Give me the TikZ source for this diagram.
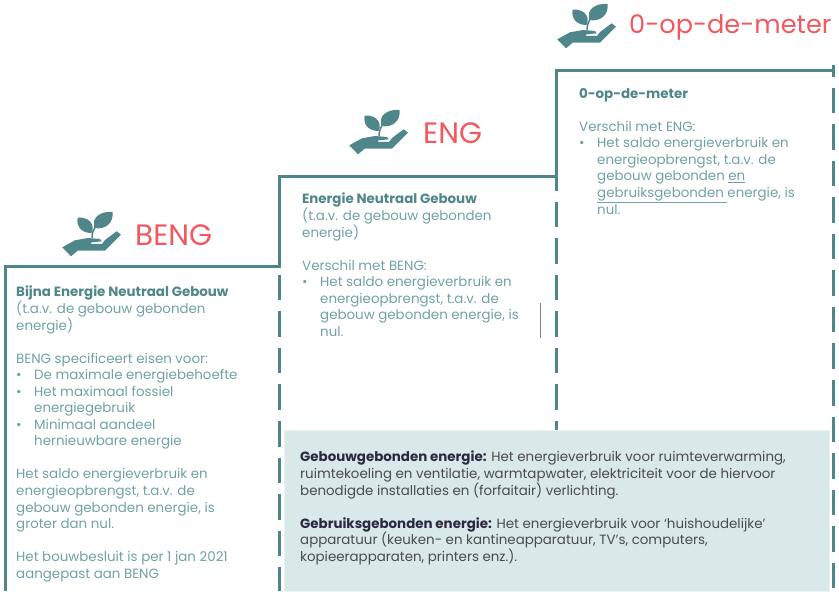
\documentclass[tikz,border=0pt]{standalone}
\usepackage{fontspec}
\setmainfont{Poppins}
\usepackage{xcolor}
\definecolor{stepteal}{HTML}{4F868A}
\definecolor{bodyteal}{HTML}{70A2A4}
\definecolor{boxfill}{HTML}{D9E8E8}
\definecolor{boxedge}{HTML}{E9F3F3}
\definecolor{headred}{HTML}{F2585F}
\definecolor{boxtext}{HTML}{4A4A50}
\definecolor{boxbold}{HTML}{2E2740}
\newcommand{\bul}{\makebox[18pt][l]{•}}
\newcommand{\ind}{\hspace*{18pt}}
\tikzset{
	stepline/.style={draw=stepteal, line width=3pt},
	stepdash/.style={stepline, dash pattern=on 25.5pt off 11pt},
	headtext/.style={text=headred, font=\fontsize{29.5}{34}\selectfont, inner sep=0pt},
	stepbody/.style={text=bodyteal, anchor=north west, align=left, inner sep=0pt, font=\fontsize{13.4}{16.55}\selectfont},
	boxbody/.style={stepbody, text=boxtext},
	planthand/.pic={
		\fill[stepteal] (7.3,39.3) -- (20,32.3) -- (33,30) -- (45,31) -- (46.7,33.3) -- (36,34.5) -- (36,36) -- (47,36) -- (50,32) -- (61.7,23.3) -- (66,26.7) -- (50,42.7) -- (22.7,42.7) -- (16,48.3) -- cycle;
		\fill[stepteal] (22.7,9.5) .. controls (36,9) and (40,18) .. (36.5,25) .. controls (26,25) and (21,18) .. (22.7,9.5) -- cycle;
		\fill[stepteal] (57.5,4) .. controls (46,3) and (36,9) .. (39.5,20) .. controls (50,22) and (59,15) .. (57.5,4) -- cycle;
		\draw[stepteal, line width=1.5pt] (37,30) .. controls (37,26) and (38,22) .. (41,18);
	}
}
\begin{document}
\begin{tikzpicture}[x=1pt, y=-1pt]
	\useasboundingbox (0,0) rectangle (839,596);
	\draw[stepline](5, 591) -- (5, 267) -- (279.5, 267) -- (279.5, 177) -- (556, 177) -- (556, 70.5) -- (833, 70.5);
	\draw[stepline](833, 65) -- (833, 77);
	\draw[stepline](556, 177) -- (556, 191);
	\draw[stepdash](279.5, 275) -- (279.5, 591);
	\draw[stepdash](556, 202) -- (556, 432);
	\draw[stepdash](833, 88) -- (833, 591);
	\fill[boxfill, draw=boxedge, line width=1pt](284, 430) rectangle (829, 591);
	\draw[gray, line width=.7pt](540.5, 303) -- (540.5, 338);
	\pic at (55, 208) {planthand};
	\pic at (342, 106) {planthand};
	\pic at (550, 0) {planthand};
	\node[headtext, anchor=west] (bengHead) at (135, 235) {BENG};
	\node[headtext, anchor=west] (engHead) at (423, 133) {ENG};
	\node[headtext, anchor=west, font=\fontsize{25.6}{30}\selectfont] (meterHead) at (629, 27) {0-op-de-meter};
	\node[stepbody] (bengBody) at (16, 286) {\textcolor{stepteal}{\textbf{Bijna Energie Neutraal Gebouw}}\\
		(t.a.v. de gebouw gebonden\\
		energie)\\[16.55pt]
		BENG specificeert eisen voor:\\
		\bul De maximale energiebehoefte\\
		\bul Het maximaal fossiel\\
		\ind energiegebruik\\
		\bul Minimaal aandeel\\
		\ind hernieuwbare energie\\[16.55pt]
		Het saldo energieverbruik en\\
		energieopbrengst, t.a.v. de\\
		gebouw gebonden energie, is\\
		groter dan nul.\\[16.55pt]
		Het bouwbesluit is per 1 jan 2021\\
		aangepast aan BENG};
	\node[stepbody] (engBody) at (302, 193) {\textcolor{stepteal}{\textbf{Energie Neutraal Gebouw}}\\
		(t.a.v. de gebouw gebonden\\
		energie)\\[16.55pt]
		Verschil met BENG:\\
		\bul Het saldo energieverbruik en\\
		\ind energieopbrengst, t.a.v. de\\
		\ind gebouw gebonden energie, is\\
		\ind nul.};
	\node[stepbody] (meterBody) at (579, 88) {\textcolor{stepteal}{\textbf{0-op-de-meter}}\\[16.55pt]
		Verschil met ENG:\\
		\bul Het saldo energieverbruik en\\
		\ind energieopbrengst, t.a.v. de\\
		\ind gebouw gebonden \underline{en}\\
		\ind \underline{gebruiksgebonden }energie, is\\
		\ind nul.};
	\node[boxbody] (boxBody) at (300, 451) {\textcolor{boxbold}{\textbf{Gebouwgebonden energie:}} Het energieverbruik voor ruimteverwarming,\\
		ruimtekoeling en ventilatie, warmtapwater, elektriciteit voor de hiervoor\\
		benodigde installaties en (forfaitair) verlichting.\\[16.55pt]
		\textcolor{boxbold}{\textbf{Gebruiksgebonden energie:}} Het energieverbruik voor ‘huishoudelijke’\\
		apparatuur (keuken- en kantineapparatuur, TV's, computers,\\
		kopieerapparaten, printers enz.).};
\end{tikzpicture}
\end{document}
